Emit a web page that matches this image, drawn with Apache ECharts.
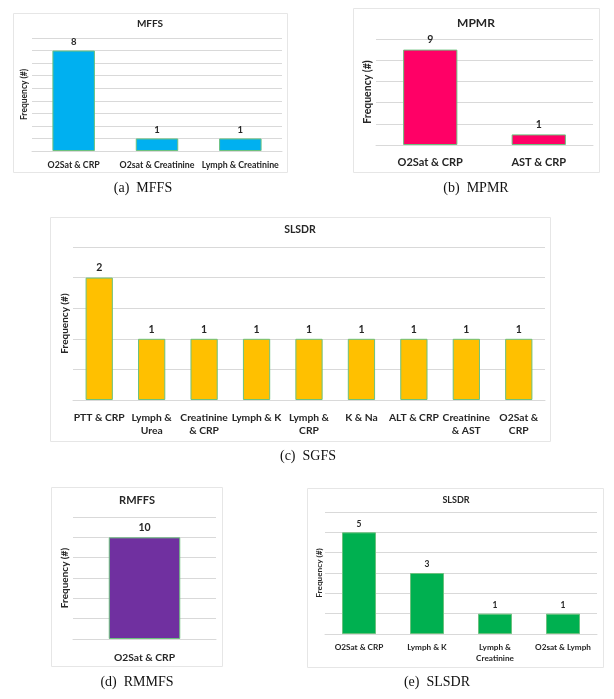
<!DOCTYPE html>
<html>
<head>
<meta charset="utf-8">
<script src="https://cdn.jsdelivr.net/npm/echarts@6/dist/echarts.min.js"></script>
<style>
  html, body { margin: 0; padding: 0; background: #fff; }
  #chart { width: 614px; height: 699px; }
</style>
</head>
<body>
<div id="chart"></div>
<script>
// data for each panel
const mffsCats = ['O2Sat & CRP', 'O2sat & Creatinine', 'Lymph & Creatinine'];
const mffsVals = [8, 1, 1];

const mpmrCats = ['O2Sat & CRP', 'AST & CRP'];
const mpmrVals = [9, 1];

const sgfsCats = ['PTT & CRP', 'Lymph &\nUrea', 'Creatinine\n& CRP', 'Lymph & K', 'Lymph &\nCRP', 'K & Na', 'ALT & CRP', 'Creatinine\n& AST', 'O2Sat &\nCRP'];
const sgfsVals = [2, 1, 1, 1, 1, 1, 1, 1, 1];

const rmmfsCats = ['O2Sat & CRP'];
const rmmfsVals = [10];

const slsdrCats = ['O2Sat & CRP', 'Lymph & K', 'Lymph &\nCreatinine', 'O2sat & Lymph'];
const slsdrVals = [5, 3, 1, 1];

const chart = echarts.init(document.getElementById('chart'));
const FONT = 'Lato, "Open Sans", sans-serif';
const GRID_COLOR = '#d9d9d9';

// panel layout: grid box, axis range, colours, font sizes
const panels = [
  { cats: mffsCats, vals: mffsVals, color: '#00b0f0', grid: { left: 32, top: 38, width: 250, height: 113 },
    max: 9, interval: 1, labelSize: 8.8, valSize: 9.5, nameSize: 8.5, nameGap: 3, margin: 8, barWidth: '51%',
    title: 'MFFS', titleSize: 10, titlePos: [150, 24], box: [13, 13, 274, 159], caption: '(a)  MFFS', capPos: [143, 188] },
  { cats: mpmrCats, vals: mpmrVals, color: '#ff0066', grid: { left: 376, top: 39, width: 217, height: 106 },
    max: 10, interval: 2, labelSize: 11, valSize: 10.5, nameSize: 10.5, nameGap: 3, margin: 10, barWidth: '50%',
    title: 'MPMR', titleSize: 12, titlePos: [476, 23], box: [353, 8, 246, 164], caption: '(b)  MPMR', capPos: [476, 188] },
  { cats: sgfsCats, vals: sgfsVals, color: '#ffc000', grid: { left: 73, top: 247, width: 472, height: 153 },
    max: 2.5, interval: 0.5, labelSize: 10.3, valSize: 10.5, nameSize: 10, nameGap: 3, margin: 11, barWidth: '52%',
    title: 'SLSDR', titleSize: 10.5, titlePos: [300, 230], box: [50, 217, 500, 224], caption: '(c)  SGFS', capPos: [308, 456] },
  { cats: rmmfsCats, vals: rmmfsVals, color: '#7030a0', grid: { left: 73, top: 517, width: 143, height: 122 },
    max: 12, interval: 2, labelSize: 10.3, valSize: 10.5, nameSize: 10, nameGap: 3, margin: 12, barWidth: '50%',
    title: 'RMFFS', titleSize: 11, titlePos: [137, 500], box: [51, 487, 171, 179], caption: '(d)  RMMFS', capPos: [137, 682] },
  { cats: slsdrCats, vals: slsdrVals, color: '#00b050', grid: { left: 325, top: 512, width: 272, height: 122 },
    max: 6, interval: 1, labelSize: 8.2, valSize: 8.5, nameSize: 8.2, nameGap: 2, margin: 8, barWidth: '50%',
    title: 'SLSDR', titleSize: 9, titlePos: [456, 500], box: [307, 488, 296, 179], caption: '(e)  SLSDR', capPos: [437, 682] }
];

const grids = [], xAxes = [], yAxes = [], series = [], graphics = [];

panels.forEach((p, i) => {
  grids.push(Object.assign({ containLabel: false }, p.grid));
  xAxes.push({
    type: 'category', gridIndex: i, data: p.cats,
    axisLine: { show: true, lineStyle: { color: GRID_COLOR } },
    axisTick: { show: false },
    axisLabel: { color: '#262626', fontFamily: FONT, fontWeight: 'bold', fontSize: p.labelSize,
                 margin: p.margin, interval: 0, lineHeight: p.labelSize + 3 }
  });
  yAxes.push({
    type: 'value', gridIndex: i, min: 0, max: p.max, interval: p.interval,
    name: 'Frequency (#)', nameLocation: 'middle', nameRotate: 90, nameGap: p.nameGap,
    nameTextStyle: { color: '#262626', fontFamily: FONT, fontWeight: 'bold', fontSize: p.nameSize },
    axisLine: { show: false }, axisTick: { show: false }, axisLabel: { show: false },
    splitLine: { show: true, lineStyle: { color: GRID_COLOR, width: 1 } }
  });
  series.push({
    type: 'bar', xAxisIndex: i, yAxisIndex: i, data: p.vals, barWidth: p.barWidth,
    itemStyle: { color: p.color, borderColor: '#6cc17e', borderWidth: 1 },
    label: { show: true, position: 'top', distance: 4, color: '#262626', fontFamily: FONT,
             fontWeight: 'bold', fontSize: p.valSize },
    silent: true, animation: false
  });
  // panel frame
  graphics.push({
    type: 'rect', shape: { x: p.box[0] + 0.5, y: p.box[1] + 0.5, width: p.box[2], height: p.box[3] },
    style: { fill: 'none', stroke: '#e6e6e6', lineWidth: 1 }, z: -1
  });
  graphics.push({
    type: 'text', x: p.titlePos[0], y: p.titlePos[1],
    style: { text: p.title, textAlign: 'center', textVerticalAlign: 'middle', fill: '#262626',
             font: 'bold ' + p.titleSize + 'px ' + FONT }
  });
  graphics.push({
    type: 'text', x: p.capPos[0], y: p.capPos[1],
    style: { text: p.caption, textAlign: 'center', textVerticalAlign: 'middle', fill: '#111',
             font: '14px "Liberation Serif", "DejaVu Serif", serif' }
  });
});

chart.setOption({
  backgroundColor: '#fff',
  animation: false,
  grid: grids,
  xAxis: xAxes,
  yAxis: yAxes,
  series: series,
  graphic: graphics
});
</script>
</body>
</html>
